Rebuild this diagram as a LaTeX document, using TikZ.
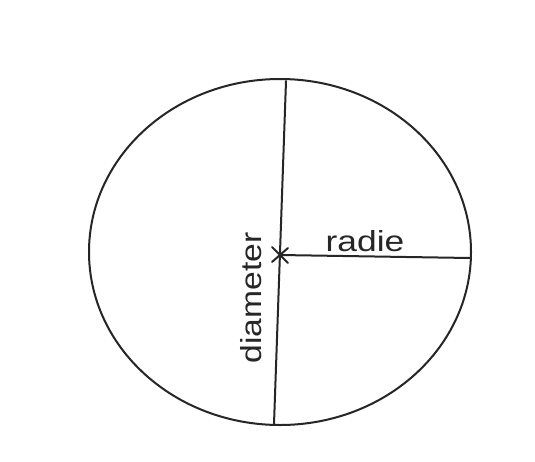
\documentclass[tikz,border=0pt]{standalone}
\usepackage{fontspec}
\setmainfont{Liberation Sans}
\usetikzlibrary{calc}
\tikzset{
  pen/.style={line width=2pt, line cap=round, black!85},
  lbl/.style={inner sep=0pt, font=\fontsize{29}{29}\selectfont, text=black!85}
}
\begin{document}
\begin{tikzpicture}[x=1pt,y=-1pt]
\useasboundingbox (0,0) rectangle (535,461);
\fill[white] (0,0) rectangle (535,461);
\coordinate (c) at (280,252);
\coordinate (o) at (280,255);
\coordinate (top) at (286,81);
\coordinate (bot) at (274,424);
\coordinate (r) at (470,258);
\draw[pen] (c) ellipse [x radius=191, y radius=173];
\draw[pen] (top) -- (bot);
\draw[pen] (o) -- (r);
\draw[pen] ($(o)+(-8,-8)$) -- ($(o)+(8,8)$);
\draw[pen] ($(o)+(-8,7)$) -- ($(o)+(8,-7)$);
\node[lbl, xscale=1.22, anchor=base] (radie) at (365,251) {radie};
\node[lbl, rotate=90, xscale=1.16, anchor=base] (diam) at (261,298) {diameter};
\end{tikzpicture}
\end{document}
